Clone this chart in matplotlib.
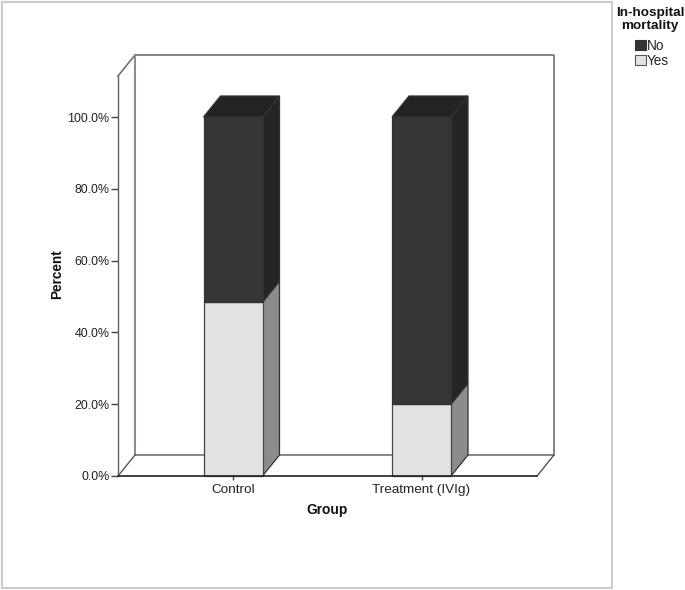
import matplotlib
matplotlib.use('Agg')
import matplotlib.pyplot as plt
from matplotlib.patches import Polygon, Rectangle

# Data
groups  = ['Control', 'Treatment (IVIg)']
yes_pct = [48.4, 20.0]
no_pct  = [51.6, 80.0]
ticks   = [0, 20, 40, 60, 80, 100]

col_no       = '#353535'
col_no_top   = '#232323'
col_no_side  = '#252525'
col_yes      = '#e2e2e2'
col_yes_side = '#8c8c8c'
edge         = '#333333'

plt.rcParams['font.family'] = ['Liberation Sans', 'DejaVu Sans']

W, H = 685, 590
fig = plt.figure(figsize=(W/100, H/100), dpi=100)

# Axes box in pixels
left, right, bottom, top = 118, 537, 476, 76
ax = fig.add_axes([left/W, 1 - bottom/H, (right-left)/W, (bottom-top)/H])

px_x = 188.5                 # pixels per category step
px_y = 3.59                  # pixels per percent
ax.set_xlim((left-233)/px_x, (right-233)/px_x)
ax.set_ylim(0, (bottom-top)/px_y)
ax.patch.set_visible(False)

dx = 17/px_x                 # 3D depth
dy = 21/px_y
bar_w = 59/px_x
x0, x1 = ax.get_xlim()
ytop = ax.get_ylim()[1]

def poly(pts, fc, ec=edge, lw=0.9, z=2):
    ax.add_patch(Polygon(pts, closed=True, fc=fc, ec=ec, lw=lw, zorder=z, clip_on=False))

# Back walls and floor
ax.plot([x0, x0+dx, x1+dx, x1+dx], [ytop, ytop+dy, ytop+dy, dy], color='#707070', lw=1.2, clip_on=False, zorder=1)
ax.plot([x0+dx, x0+dx], [dy, ytop+dy], color='#8c8c8c', lw=1.5, clip_on=False, zorder=1)
ax.plot([x0, x0+dx, x1+dx, x1], [0, dy, dy, 0], color='#555555', lw=1.0, clip_on=False, zorder=1)

# Bars
ax.bar(range(len(groups)), yes_pct, bar_w, color=col_yes, edgecolor='#444444', lw=0.9, zorder=3, clip_on=False, label='Yes')
ax.bar(range(len(groups)), no_pct, bar_w, bottom=yes_pct, color=col_no, edgecolor=edge, lw=0.9, zorder=3, clip_on=False, label='No')

for i in range(len(groups)):
    xr = i + bar_w/2
    xl = i - bar_w/2
    y1 = yes_pct[i]
    y2 = yes_pct[i] + no_pct[i]
    poly([(xr, 0), (xr+dx, dy), (xr+dx, y1+dy), (xr, y1)], col_yes_side)
    poly([(xr, y1), (xr+dx, y1+dy), (xr+dx, y2+dy), (xr, y2)], col_no_side)
    poly([(xl, y2), (xl+dx, y2+dy), (xr+dx, y2+dy), (xr, y2)], col_no_top)

# Axes
for s in ['top', 'right']:
    ax.spines[s].set_visible(False)
ax.spines['left'].set_color('#606060')
ax.spines['left'].set_linewidth(1.0)
ax.spines['bottom'].set_color('#222222')
ax.spines['bottom'].set_linewidth(1.2)
ax.spines['bottom'].set_zorder(4)

ax.set_yticks(ticks)
ax.set_yticklabels(['%.1f%%' % t for t in ticks], fontsize=8.9, color='#222222')
ax.set_xticks(range(len(groups)))
ax.set_xticklabels(groups, fontsize=9.7, color='#222222')
ax.tick_params(axis='y', length=5, width=1, color='#444444', pad=1)
ax.tick_params(axis='x', length=3, width=1, color='#444444', pad=2.5)

fig.text(57/W, 1 - 274/H, 'Percent', rotation=90, ha='center', va='center', fontsize=9.8, fontweight='bold', color='#111111')
fig.text(327.5/W, 1 - 510/H, 'Group', ha='center', va='center', fontsize=9.9, fontweight='bold', color='#111111')

# Chart frame
fig.add_artist(Rectangle((2/W, 1 - 587.5/H), 610/W, 586/H, transform=fig.transFigure, fill=False, ec='#cccccc', lw=1.5))

# Legend
fig.text(650/W, 1 - 19.5/H, 'In-hospital\nmortality', ha='center', va='center', fontsize=9.7, fontweight='bold', color='#111111', linespacing=1.05)
fig.add_artist(Rectangle((634.5/W, 1 - 50/H), 11/W, 10.5/H, transform=fig.transFigure, fc=col_no, ec=edge, lw=0.8))
fig.add_artist(Rectangle((634.5/W, 1 - 65/H), 11/W, 10.5/H, transform=fig.transFigure, fc=col_yes, ec='#555555', lw=0.8))
fig.text(647/W, 1 - 46/H, 'No', ha='left', va='center', fontsize=9.8, color='#222222')
fig.text(647/W, 1 - 61/H, 'Yes', ha='left', va='center', fontsize=9.8, color='#222222')

fig.savefig('out.png', dpi=100)
